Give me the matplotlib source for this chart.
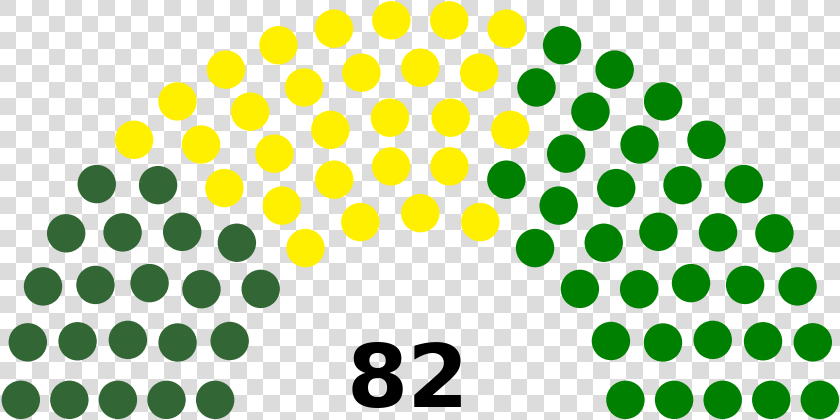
import math
import numpy as np
import matplotlib
matplotlib.use('Agg')
from matplotlib import pyplot as plt
from matplotlib.colors import ListedColormap
from matplotlib.patches import Circle

# Seats per party, left to right
party_seats = [21, 28, 33]
party_colors = ['#326634', '#FFF000', '#008000']
total_label = '82'

n_seats = sum(party_seats)
rows = 5
max_for_rows = 95   # most seats that fit in 5 rows
radius = 0.4 / rows

# Seat positions, hemicycle layout (angle, x, y)
poslist = []
for i in range(1, rows):
    R = (3.0*rows + 4.0*i - 2.0) / (4.0*rows)
    J = int(float(n_seats) / max_for_rows * math.pi / (2*math.asin(2.0/(3.0*rows + 4.0*i - 2.0))))
    for j in range(J):
        angle = j * (math.pi - 2.0*math.sin(radius/R)) / (J - 1.0) + math.sin(radius/R)
        poslist.append((angle, R*math.cos(angle), R*math.sin(angle)))

# Outer row takes the rest
R = (3.0*rows + 4.0*rows - 2.0) / (4.0*rows)
J = n_seats - len(poslist)
for j in range(J):
    angle = j * (math.pi - 2.0*math.sin(radius/R)) / (J - 1.0) + math.sin(radius/R)
    poslist.append((angle, R*math.cos(angle), R*math.sin(angle)))
poslist.sort(reverse=True)

# Colour for each seat
seat_colors = []
for n, c in zip(party_seats, party_colors):
    seat_colors += [c]*n

# Figure in pixel units
fig = plt.figure(figsize=(8.4, 4.2), dpi=100)
ax = fig.add_axes([0, 0, 1, 1])

# Transparency checkerboard behind the chart
sq = 16.5
ii, jj = np.indices((27, 52))
board = (ii + jj) % 2
ax.imshow(board, cmap=ListedColormap(['#DCDCDC', '#FFFFFF']), interpolation='nearest',
          extent=(-0.5, -0.5 + sq*52, -0.5 + sq*27, -0.5))

cx, cy, scale = 420.3, 419.2, 242.4
for (a, x, y), c in zip(poslist, seat_colors):
    ax.add_patch(Circle((cx + scale*x, cy - scale*y), radius*scale*0.99, color=c, lw=0))

ax.text(407.7, 406.7, total_label, ha='center', va='baseline',
        fontsize=63.4, fontweight='bold', color='black', family='DejaVu Sans')

ax.set_xlim(0, 840)
ax.set_ylim(420, 0)
ax.set_aspect('auto')
ax.axis('off')

fig.savefig('out.png', dpi=100)
